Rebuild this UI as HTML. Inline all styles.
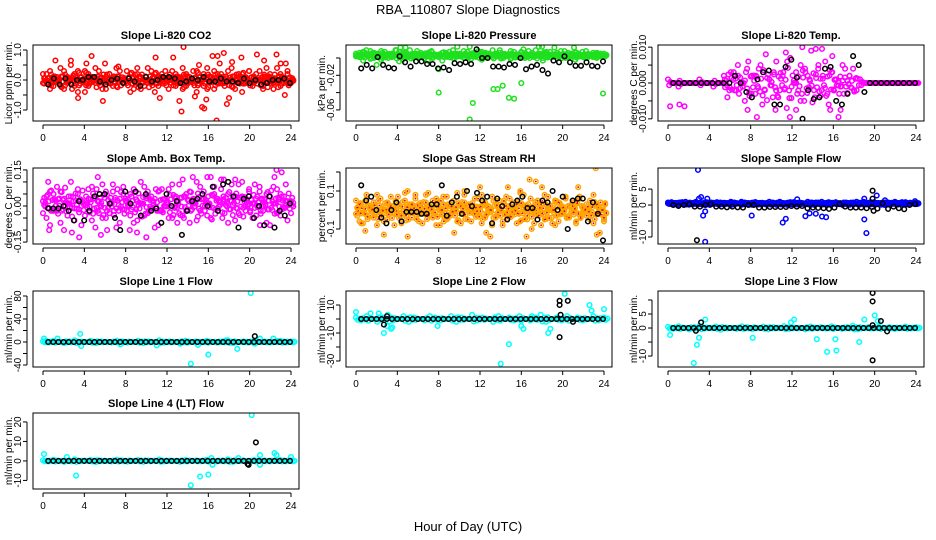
<!DOCTYPE html>
<html><head><meta charset="utf-8">
<style>
html,body{margin:0;padding:0;background:#fff;}
svg{display:block;font-family:"Liberation Sans",sans-serif;}
</style></head>
<body>
<svg id="c" width="936" height="540" viewBox="0 0 936 540" xmlns="http://www.w3.org/2000/svg">
<text x="468" y="14" text-anchor="middle" font-size="13">RBA_110807  Slope Diagnostics</text>
<text x="468" y="531" text-anchor="middle" font-size="13">Hour of Day (UTC)</text>
</svg>
<script>
// ---------- data ----------
const hourTicks = [0,4,8,12,16,20,24];

const co2Band = [0.2,-0.1,0.3,-0.2,0.1,0.4,-0.3,0.0,0.5,-0.2,0.3,0.1,-0.4,0.2,0.0,-0.1,0.3,-0.3,0.1,0.2,-0.2,0.4,0.0,-0.1,0.3,-0.4,0.1,0.2,-0.3,0.0,0.4,-0.1,0.2,-0.2,0.1,0.3,-0.3,0.0,0.2,-0.1,0.4,-0.2,0.1,0.3,-0.4,0.0,0.2,-0.3,0.1,0.3,-0.1,0.2,-0.2,0.0,0.4,-0.3,0.1,0.2,-0.1,0.3,-0.2,0.0,0.3,-0.3,0.1,0.2,-0.1,0.4,-0.2,0.0,0.2,-0.1];
const co2Band2 = [-0.1,0.2,-0.3,0.1,0.0,-0.2,0.3,0.1,-0.1,0.2,-0.4,0.0,0.3,-0.2,0.1,0.4,-0.1,0.0,-0.3,0.2,0.1,-0.2,0.3,0.0,-0.1,0.2,-0.3,0.4,0.1,-0.2,0.0,0.3,-0.4,0.1,0.2,-0.1,0.0,0.3,-0.2,0.1,-0.3,0.2,0.0,-0.1,0.3,0.1,-0.2,0.4,0.0,-0.3,0.2,0.1,-0.1,0.3,-0.2,0.0,0.2,-0.4,0.1,0.3,-0.1,0.2,0.0,-0.2,0.4,0.1,-0.3,0.0,0.2,-0.1,0.3,0.0];
const co2Out = [[1.2,0.65],[2.7,0.65],[3.4,-0.6],[4.7,0.8],[4.2,0.55],[6.0,0.55],[5.8,-0.7],[7.3,0.45],[10.9,0.75],[11.3,-0.6],[12.6,0.75],[13.2,-0.7],[13.4,-1.05],[13.6,1.1],[14.7,-0.55],[15.1,0.5],[15.4,-0.9],[15.6,-0.95],[15.8,-0.65],[16.4,0.8],[16.8,-1.35],[16.9,0.8],[17.1,0.55],[17.5,0.9],[17.8,-0.8],[18.0,-0.6],[18.3,0.6],[19.2,0.75],[20.7,0.85],[21.4,0.65],[22.6,0.85],[23.0,0.55],[23.4,-0.5],[23.5,0.55]];
const co2Black = [-0.15,0.05,-0.15,0.05,-0.15,0.0,0.0,0.1,0.1,-0.05,-0.15,0.0,0.05,-0.1,0.05,-0.05,-0.2,0.1,-0.05,0.0,0.1,0.1,0.05,-0.1,-0.05,0.05,0.0,0.1,-0.05,-0.05,0.05,-0.05,-0.05,-0.1,0.05,-0.1,0.0,-0.15,-0.1,0.0,0.0,0.05,-0.1];

const presBand = [0.002,0.006,-0.003,0.004,0.008,0.0,0.005,-0.002,0.007,0.003,0.001,0.009,-0.004,0.004,0.006,0.002,0.0,0.008,0.003,-0.001,0.005,0.007,0.002,0.004,-0.003,0.006,0.001,0.009,0.003,0.005,0.0,0.007,0.002,0.004,0.008,-0.002,0.006,0.003,0.001,0.005,0.009,0.002,0.004,-0.001,0.007,0.003,0.006,0.0,0.008,0.004,0.002,0.005,-0.003,0.007,0.003,0.001,0.006,0.004,0.008,0.002,0.005,-0.002,0.003,0.007,0.001,0.004,0.006,0.0,0.005,0.003];
const presBand2 = [0.005,0.001,0.007,0.003,-0.001,0.006,0.002,0.008,0.004,0.0,0.005,0.003,0.007,-0.002,0.004,0.009,0.001,0.005,0.006,0.002,-0.003,0.008,0.004,0.001,0.006,0.003,0.007,0.0,0.005,0.002,0.008,0.004,-0.001,0.006,0.003,0.007,0.001,0.005,0.009,0.002,0.006,0.0,0.004,0.008,0.003,0.001,0.007,0.005,0.002,0.006,0.009,0.003,0.0,0.005,0.007,0.002,0.004,0.008,0.001,0.006,0.003,0.007,0.005,0.002,0.008,0.004,0.001,0.006,0.003,0.005];
const presOut = [[1.0,0.009],[3.9,0.009],[4.3,0.012],[4.8,0.012],[8.0,-0.04],[9.8,0.013],[11.0,-0.071],[11.3,-0.052],[11.0,0.013],[13.3,-0.036],[13.7,-0.036],[14.2,-0.032],[14.8,-0.046],[15.3,-0.047],[16.0,-0.029],[16.2,0.01],[17.7,0.013],[18.0,0.013],[19.2,0.012],[21.1,0.012],[23.9,-0.041],[2.0,-0.008],[8.0,-0.013]];
const presBlack = [-0.012,-0.008,-0.012,0.001,-0.008,-0.011,-0.012,0.002,-0.005,-0.01,-0.004,-0.004,-0.007,-0.007,-0.012,-0.011,-0.014,-0.006,-0.007,-0.005,-0.007,0.01,0.0,0.0,-0.01,-0.01,-0.011,-0.007,-0.008,0.0,-0.013,-0.01,-0.008,-0.014,-0.018,-0.003,-0.005,0.002,-0.005,-0.009,-0.009,-0.005,-0.009,-0.01,-0.004];

const tempBand = [0.001,0,0,-0.001,0,0,0,0,0,0.001,0,0,0,-0.001,0,0,0.002,-0.004,0.003,-0.002,0.005,0.0,-0.005,0.006,0.002,-0.003,0.004,-0.006,0.008,0.001,-0.004,0.006,-0.002,0.003,-0.007,0.007,0.0,-0.003,0.005,-0.005,0.002,0.009,-0.004,0.004,-0.002,0.006,-0.006,0.003,0.001,-0.003,0.005,-0.001,0.002,0.004,-0.002,0.001,0,0,0,0,0,0,0,0,0,0,0,0,0,0,0,0];
const tempBand2 = [0.001,-0.002,0.003,0.002,-0.001,0.004,-0.003,0.002,0.005,-0.002,0.001,0.003,-0.004,0.002,0.006,-0.001,0.003,-0.005,0.004,0.001,-0.002,0.005,0.002,-0.003,0.003,0.001,-0.001,0.004,0.002,-0.002];
const tempOut = [[0.2,-0.0065],[1.1,-0.006],[1.6,-0.0065],[7.7,-0.0075],[8.6,-0.0095],[11.8,-0.0095],[13.0,0.01],[14.3,0.0095],[14.9,0.0095],[15.9,0.0075],[16.5,-0.0095],[16.7,-0.0075],[15.7,-0.0075],[10.4,-0.0075],[12.4,-0.0075],[11.4,0.0085]];
const tempBlack = [0,0,0,0,0,0,0,0,0,0,0,0.002,0.0,-0.0025,-0.004,0.001,0.003,0.0035,-0.006,-0.006,0.0045,0.0065,0.0015,-0.01,-0.002,-0.0045,-0.004,0.004,0.0045,-0.005,-0.006,-0.003,0.0075,0.005,-0.0025,0,0,0,0,0,0,0,0,0];

const ambBand = [0.02,-0.05,0.06,-0.02,0.08,-0.07,0.03,-0.04,0.1,-0.01,0.05,-0.08,0.02,0.07,-0.06,0.04,-0.03,0.09,-0.05,0.01,0.06,-0.09,0.03,0.08,-0.02,0.05,-0.07,0.02,0.1,-0.04,0.06,-0.01,0.03,-0.08,0.07,0.0,-0.05,0.09,0.04,-0.03,0.11,-0.02,0.06,0.01,-0.06,0.08,0.03,-0.04,0.12,0.05,-0.01,0.07,0.02,-0.07,0.09,0.04,-0.03,0.1,0.0,0.06,-0.05,0.03,0.08,-0.02,0.05,-0.08,0.01,0.07,-0.04,0.04,0.02,-0.03];
const ambBand2 = [-0.03,0.04,-0.08,0.05,-0.02,0.06,-0.1,0.01,0.04,-0.06,0.07,0.0,-0.04,0.03,0.08,-0.09,0.02,-0.05,0.06,-0.03,0.09,-0.01,-0.07,0.05,0.02,-0.04,0.07,-0.06,0.01,0.08,-0.03,0.04,-0.09,0.06,-0.02,0.03,0.07,-0.05,0.0,0.09,-0.04,0.05,-0.07,0.03,0.1,-0.02,0.06,0.01,-0.05,0.08,0.03,0.11,-0.03,0.05,0.02,-0.06,0.09,0.04,-0.02,0.07,0.01,-0.04,0.06,0.0,-0.07,0.04,0.08,-0.03,0.05,-0.01,-0.06,0.02];
const ambOut = [[0.5,0.1],[0.6,-0.1],[2.8,-0.11],[3.5,-0.13],[5.3,0.12],[5.6,-0.12],[6.2,-0.1],[8.4,-0.1],[9.1,-0.11],[10.0,-0.13],[11.8,-0.14],[13.0,-0.07],[14.5,0.12],[15.9,0.12],[17.5,0.11],[18.6,0.11],[20.5,0.09],[22.6,0.15],[22.4,0.12],[23.1,0.14],[23.5,0.09],[21.0,-0.08]];
const ambBlack = [-0.01,-0.01,-0.01,0.0,-0.02,-0.06,0.02,-0.06,-0.02,0.04,0.05,0.05,0.01,-0.05,-0.1,0.06,0.01,0.06,-0.04,0.05,-0.02,-0.01,-0.07,0.05,0.0,0.02,-0.12,-0.02,0.02,0.03,0.05,0.0,0.08,-0.02,0.09,0.1,0.04,-0.09,0.03,0.04,-0.05,0.0,-0.08,0.04,-0.09,-0.02,-0.04,0.01];

const rhBand = [0.05,-0.06,0.02,0.08,-0.03,0.04,-0.08,0.06,0.0,-0.05,0.07,-0.02,0.03,-0.07,0.09,0.01,-0.04,0.06,-0.06,0.02,0.08,-0.03,0.05,-0.08,0.0,0.07,-0.05,0.03,-0.01,0.09,-0.07,0.04,0.01,-0.06,0.06,-0.02,0.08,-0.04,0.02,-0.08,0.05,0.0,-0.06,0.07,-0.03,0.04,-0.07,0.09,0.01,-0.05,0.06,-0.02,0.03,-0.08,0.08,0.0,-0.04,0.05,-0.06,0.02,0.07,-0.03,0.04,-0.07,0.06,-0.01,0.03,-0.05,0.08,-0.02,0.04,-0.06];
const rhBand2 = [-0.02,0.03,-0.07,0.06,0.01,-0.04,0.08,-0.01,-0.06,0.04,0.02,-0.08,0.07,-0.03,0.05,-0.05,0.03,0.08,-0.02,-0.07,0.04,0.01,-0.04,0.06,-0.08,0.03,0.07,-0.03,0.05,-0.06,0.02,0.08,-0.05,0.01,-0.02,0.06,-0.07,0.04,0.0,0.07,-0.04,0.05,-0.08,0.02,0.06,-0.01,0.03,-0.06,0.08,-0.03,0.01,-0.07,0.05,0.03,-0.05,0.07,0.0,-0.08,0.04,-0.02,0.06,-0.04,0.02,-0.06,0.07,0.01,-0.03,0.05,-0.07,0.03,0.0,-0.05];
const rhOut = [[0.5,-0.07],[0.9,-0.11],[2.7,-0.13],[5.0,-0.14],[5.0,0.1],[7.0,0.09],[8.5,-0.06],[9.5,-0.12],[10.5,0.1],[12.0,0.12],[12.6,-0.12],[13.0,-0.14],[14.7,0.12],[15.9,0.1],[16.5,-0.14],[16.8,0.16],[17.4,0.15],[17.0,-0.1],[18.0,0.12],[19.0,-0.07],[21.5,0.12],[23.2,0.22],[23.3,-0.13],[23.6,-0.12],[24,-0.04]];
const rhBlack = [0.13,0.05,0.07,0.0,-0.04,-0.07,0.0,0.04,-0.06,-0.01,-0.01,-0.01,-0.02,-0.02,0.03,0.03,0.13,-0.03,0.04,0.07,-0.02,0.1,0.02,0.09,0.05,0.07,-0.07,0.06,0.02,-0.05,0.03,0.05,0.07,0.01,0.01,-0.05,0.05,0.04,0.1,0.0,0.07,-0.1,0.05,0.06,0.06,-0.06,0.04,-0.02,-0.16];

const flowBand = [0.5,0.9,0.2,0.7,0.4,1.0,0.1,0.6,0.8,0.3,0.5,0.9,0.0,0.7,0.4,0.8,0.2,0.6,1.0,0.3,0.5,0.1,0.8,0.4,0.7,0.9,0.2,0.6,0.3,1.0,0.5,0.1,0.8,0.4,0.6,0.9,0.2,0.7,0.3,0.5,1.0,0.1,0.6,0.8,0.4,0.2,0.9,0.5,0.7,0.3,0.0,0.8,0.6,0.4,1.0,0.2,0.7,0.5,0.9,0.3,0.6,0.1,0.8,0.4,0.7,1.0,0.2,0.5,0.9,0.3,0.6,0.8];
const flowBand2 = [0.8,0.3,0.6,0.0,0.9,0.4,0.7,0.2,1.0,0.5,0.1,0.8,0.3,0.6,0.9,0.2,0.7,0.4,0.0,0.8,0.5,1.0,0.3,0.6,0.1,0.9,0.4,0.7,0.2,0.5,0.8,0.3,1.0,0.6,0.1,0.4,0.9,0.2,0.7,0.5,0.3,0.8,0.0,0.6,1.0,0.4,0.2,0.7,0.9,0.5,0.3,0.6,0.1,0.8,0.4,0.7,1.0,0.2,0.5,0.9,0.3,0.6,0.0,0.8,0.4,0.7,0.2,0.9,0.5,0.1,0.6,0.3];
const flowOut = [[2.9,11],[3.2,2.5],[3.4,-3.3],[3.6,-2],[3.0,2],[3.6,-11.5],[3.8,2],[8.1,-3.3],[11.1,-5.5],[11.4,-4.3],[12.5,1.8],[13.3,-3.5],[13.7,-2.6],[14.3,-2.7],[14.9,-3.6],[15.3,-3.8],[19.0,-4.5],[19.2,-8.8],[19.0,2],[20.2,3],[21.0,1.5],[23.9,1.2]];
const flowBlack = [0,-0.3,0,0.3,-0.5,-0.5,0,0.3,-0.5,-0.5,-0.7,-0.5,-0.7,-0.8,0,0,-0.8,-0.8,-0.6,-0.6,-0.6,-0.6,-0.3,-0.5,-0.3,-1,-0.8,-0.9,-1,-1.2,-0.8,0.3,-0.5,-0.8,-0.8,-0.8,-1,-0.6,-1.1,0.5,-1.2,-0.5,-1,-1.3,0,0.3];
const flowBlackOut = [[2.8,-11],[19.8,4.5],[19.9,-1.8],[19.8,2]];

const lineBand = [1,-1,2,0,-2,1,3,-1,0,2,-2,1,0,-1,2,1,-1,0,2,-2,1,0,3,-1,1,0,-2,2,0,1,-1,2,0,-1,1,3,-2,0,1,-1,2,0,1,-1,0,2,-1,1];
const lineBandSmall = [0.4,-0.3,0.6,0.0,-0.5,0.3,0.8,-0.2,0.1,0.5,-0.6,0.2,0.0,-0.3,0.6,0.3,-0.4,0.0,0.5,-0.5,0.3,0.1,0.7,-0.3,0.2,0.0,-0.5,0.5,0.1,0.3,-0.2,0.6,0.0,-0.3,0.3,0.8,-0.5,0.1,0.3,-0.2,0.5,0.0,0.3,-0.3,0.1,0.5,-0.2,0.3];
const lineZeros = [0,0,0,0,0,0,0,0,0,0,0,0,0,0,0,0,0,0,0,0,0,0,0,0,0,0,0,0,0,0,0,0,0,0,0,0,0,0,0,0,0,0,0,0,0,0,0,0];
const l1Out = [[0.1,6],[0.3,2],[1.4,6],[3.6,14],[3.7,-7],[7.5,-4],[11.0,-6],[13.3,-3],[15.0,-5],[17.7,3],[18.8,-12],[16.0,-22],[14.3,-38],[20.1,85],[20.5,-3],[21.0,6],[22.3,6],[22.6,2]];
const l1BlackOut = [[20.5,10]];
const l2Out = [[0,5],[1.4,4],[2.2,4],[2.7,-10],[3.0,-5],[3.4,-7],[3.5,-6],[7.9,-5],[14.0,-32],[14.8,-18],[16.0,-5],[16.2,-7],[17.0,2],[18.6,-10],[18.8,-7],[20.2,18],[22.6,10],[22.8,6],[24,7]];
const l2BlackOut = [[2.7,-4],[3.0,2],[19.7,13],[19.7,10],[19.7,-13],[20.5,13],[19.8,3],[21.0,-2]];
const l3Out = [[0.2,-2.5],[2.5,-12.5],[2.8,-6],[3.0,-3.5],[3.6,3],[8.2,-3.5],[11.9,2],[12.2,3],[14.4,-4],[15.4,-8.5],[16.2,-4],[16.3,-8],[18.5,-5],[19.0,3],[20.0,4.5],[20.3,2.5]];
const l3BlackOut = [[2.7,-1],[3.2,2],[19.8,12.5],[19.8,9.5],[19.8,-11.5],[20.6,2.5],[21.2,-1.2],[19.8,1]];
const l4Out = [[0.1,3.5],[0.3,0],[2.3,2],[3.2,-7.5],[14.3,-12.5],[15.2,-8],[16.0,-7],[16.4,-2],[16.3,1.5],[20.2,23.5],[21.0,3],[21.0,-2],[22.4,4],[22.6,3],[24.0,2],[18.9,1.5]];
const l4BlackOut = [[20.6,9.5],[19.8,-1.5],[19.9,-2]];

// ---------- layout ----------
const colLeft = [33,346,658];
const rowTop = [45,168,291,413];
const BW = 266, BH = 76;

const panels = [
 {id:'co2',title:'Slope Li-820 CO2',ylab:'Licor ppm per min.',col:0,row:0,ymin:-1.367,ymax:1.167,ticks:[-1,-0.5,0,0.5,1],labels:['-1.0','','0.0','','1.0'],color:'#ff0000',center:0,bands:[co2Band,co2Band2],out:co2Out,black:co2Black,blackOut:[]},
 {id:'pressure',title:'Slope Li-820 Pressure',ylab:'kPa per min.',col:1,row:0,ymin:-0.0728,ymax:0.015,ticks:[-0.06,-0.04,-0.02,0],labels:['-0.06','','-0.02',''],color:'#1ee01e',center:0.003,bands:[presBand,presBand2],out:presOut,black:presBlack,blackOut:[]},
 {id:'temp',title:'Slope Li-820 Temp.',ylab:'degrees C per min.',col:2,row:0,ymin:-0.0106,ymax:0.0106,ticks:[-0.01,-0.005,0,0.005,0.01],labels:['-0.010','','0.000','','0.010'],color:'#ff00ff',center:0,bands:[tempBand],band2:tempBand2,out:tempOut,black:tempBlack,blackOut:[]},
 {id:'amb-box',title:'Slope Amb. Box Temp.',ylab:'degrees C per min.',col:0,row:1,ymin:-0.158,ymax:0.158,ticks:[-0.15,-0.1,-0.05,0,0.05,0.1,0.15],labels:['-0.15','','','0.00','','','0.15'],color:'#ff00ff',center:0.01,bands:[ambBand,ambBand2],out:ambOut,black:ambBlack,blackOut:[]},
 {id:'rh',title:'Slope Gas Stream RH',ylab:'percent per min.',col:1,row:1,ymin:-0.179,ymax:0.221,ticks:[-0.1,0,0.1,0.2],labels:['-0.1','','0.1',''],color:'#ffa500',dotColor:'#e00000',center:0,bands:[rhBand,rhBand2],out:rhOut,black:rhBlack,blackOut:[]},
 {id:'sample-flow',title:'Slope Sample Flow',ylab:'ml/min per min.',col:2,row:1,ymin:-12.2,ymax:11.6,ticks:[-10,-5,0,5],labels:['-10','','0','5'],color:'#0000ff',center:0.5,bands:[flowBand,flowBand2],out:flowOut,black:flowBlack,blackOut:flowBlackOut},
 {id:'line1',title:'Slope Line 1 Flow',ylab:'ml/min per min.',col:0,row:2,ymin:-43.5,ymax:88.7,ticks:[-40,-20,0,20,40,60,80],labels:['-40','','0','','40','','80'],color:'#00ffff',center:0,bands:[lineBand],out:l1Out,black:lineZeros,blackOut:l1BlackOut},
 {id:'line2',title:'Slope Line 2 Flow',ylab:'ml/min per min.',col:1,row:2,ymin:-34.3,ymax:20,ticks:[-30,-20,-10,0,10],labels:['-30','','-10','','10'],color:'#00ffff',center:0,bands:[lineBand],out:l2Out,black:lineZeros,blackOut:l2BlackOut},
 {id:'line3',title:'Slope Line 3 Flow',ylab:'ml/min per min.',col:2,row:2,ymin:-13.9,ymax:13.2,ticks:[-10,-5,0,5,10],labels:['-10','','0','5',''],color:'#00ffff',center:0,bands:[lineBandSmall],out:l3Out,black:lineZeros,blackOut:l3BlackOut},
 {id:'line4',title:'Slope Line 4 (LT) Flow',ylab:'ml/min per min.',col:0,row:3,ymin:-14.4,ymax:24.6,ticks:[-10,0,10,20],labels:['-10','0','10','20'],color:'#00ffff',center:0,bands:[lineBandSmall],out:l4Out,black:lineZeros,blackOut:l4BlackOut}
];

const NS = 'http://www.w3.org/2000/svg';
const svg = document.getElementById('c');
function mk(tag, attrs, parent){
  const e = document.createElementNS(NS, tag);
  for (const k in attrs) e.setAttribute(k, attrs[k]);
  parent.appendChild(e);
  return e;
}
function dot(g, cx, cy, stroke, inner, name){
  const c = mk('circle', {cx:cx.toFixed(1), cy:cy.toFixed(1), r:2.3, fill:'none', stroke:stroke, 'stroke-width':1.5}, g);
  
  
  if (inner) mk('circle', {cx:cx.toFixed(1), cy:cy.toFixed(1), r:0.9, fill:inner}, g);
}

panels.forEach(p => {
  const L = colLeft[p.col], T = rowTop[p.row];
  const xs = h => L + 10 + h * (248/24);
  const ys = v => T + BH - (v - p.ymin) / (p.ymax - p.ymin) * BH;
  const g = mk('g', {}, svg);
  
  

  const title = mk('text', {x:L+BW/2, y:T-6, 'text-anchor':'middle', 'font-size':11, 'font-weight':'bold'}, g);
  title.textContent = p.title;
  
  

  const yl = mk('text', {x:0, y:0, 'text-anchor':'middle', 'font-size':10, transform:`translate(${L-21},${T+BH/2}) rotate(-90)`}, g);
  yl.textContent = p.ylab;
  
  

  const clip = mk('clipPath', {id:'clip-'+p.id}, g);
  mk('rect', {x:L, y:T, width:BW, height:BH}, clip);
  const pts = mk('g', {'clip-path':`url(#clip-${p.id})`}, g);
  
  

  const c0 = p.center;
  p.bands.forEach(arr => {
    const step = 24 / (arr.length - 1);
    arr.forEach((v, i) => {
      dot(pts, xs(i * step), ys(v), p.color, p.dotColor, p.id + '-point');
      dot(pts, xs(i * step + step/3), ys(c0 - 0.6*(v - c0)), p.color, p.dotColor, p.id + '-point');
      dot(pts, xs(i * step + 2*step/3), ys(c0 + 0.3*(v - c0)), p.color, p.dotColor, p.id + '-point');
    });
  });
  if (p.band2) {
    const step = 12.5 / (p.band2.length - 1);
    p.band2.forEach((v, i) => {
      dot(pts, xs(5.5 + i * step), ys(v), p.color, p.dotColor, p.id + '-point');
      dot(pts, xs(5.5 + i * step + step/2), ys(-0.7*v), p.color, p.dotColor, p.id + '-point');
    });
  }
  p.out.forEach(d => dot(pts, xs(d[0]), ys(d[1]), p.color, p.dotColor, p.id + '-outlier'));
  p.black.forEach((v, i) => dot(pts, xs(0.5 + i * 23.4 / (p.black.length - 1)), ys(v), '#000', null, p.id + '-mean-point'));
  p.blackOut.forEach(d => dot(pts, xs(d[0]), ys(d[1]), '#000', null, p.id + '-mean-outlier'));

  const box = mk('rect', {x:L, y:T, width:BW, height:BH, fill:'none', stroke:'#000', 'stroke-width':1}, g);
  
  

  mk('line', {x1:L-6, x2:L-6, y1:ys(p.ticks[0]), y2:ys(p.ticks[p.ticks.length-1]), stroke:'#000'}, g);
  p.ticks.forEach((t, i) => {
    mk('line', {x1:L-10, x2:L-6, y1:ys(t), y2:ys(t), stroke:'#000'}, g);
    if (p.labels[i]) {
      const tl = mk('text', {x:0, y:0, 'text-anchor':'middle', 'font-size':10, transform:`translate(${L-12},${ys(t)}) rotate(-90)`}, g);
      tl.textContent = p.labels[i];
      
      
    }
  });
  mk('line', {x1:xs(0), x2:xs(24), y1:T+BH+4, y2:T+BH+4, stroke:'#000'}, g);
  hourTicks.forEach(h => {
    mk('line', {x1:xs(h), x2:xs(h), y1:T+BH+4, y2:T+BH+8, stroke:'#000'}, g);
    const xl = mk('text', {x:xs(h), y:T+BH+20, 'text-anchor':'middle', 'font-size':10}, g);
    xl.textContent = String(h);
    
    
  });
});
</script>
</body></html>
